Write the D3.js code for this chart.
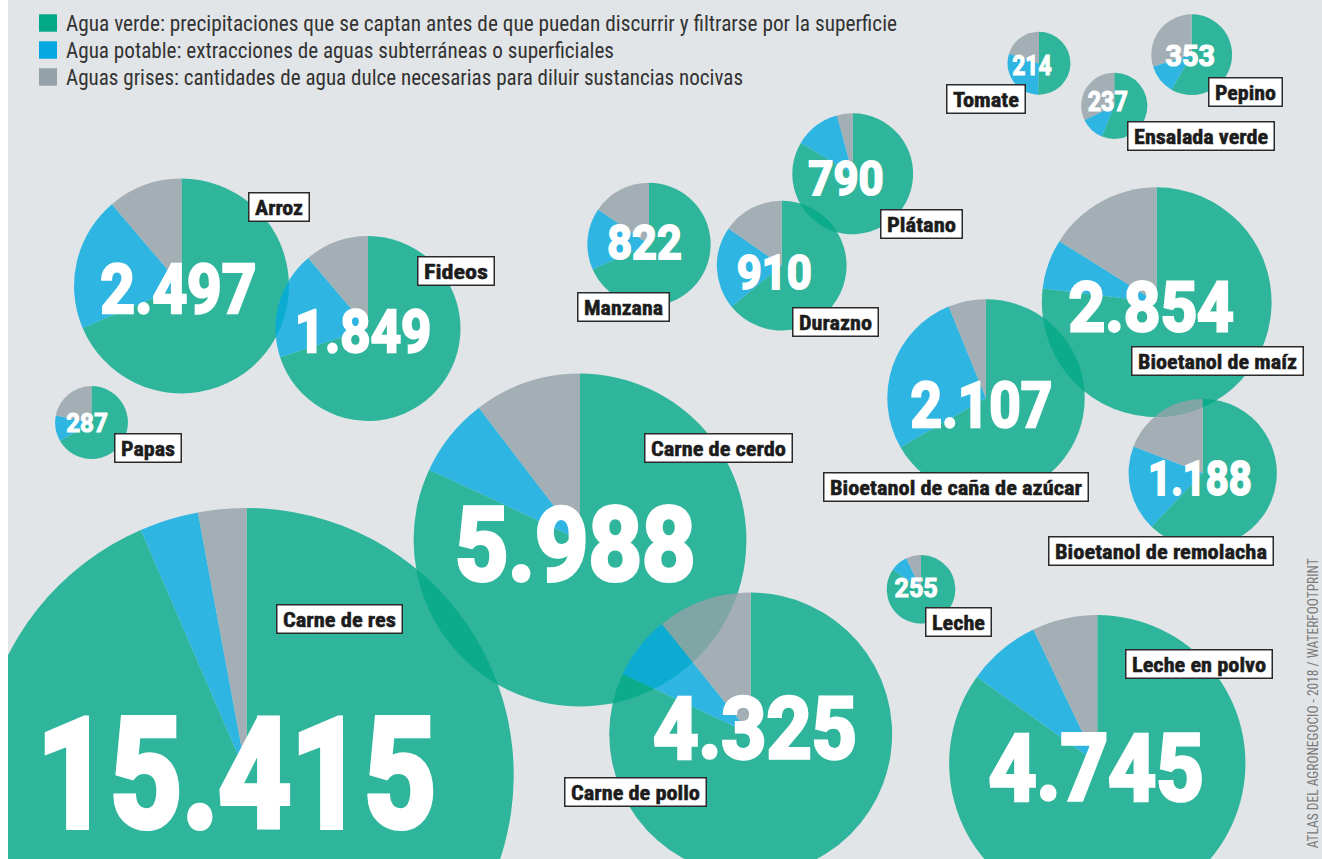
<!DOCTYPE html>
<html>
<head>
<meta charset="utf-8">
<script src="https://cdn.jsdelivr.net/npm/d3@7"></script>
<style>
  body { margin: 0; background: #fff; }
  svg { display: block; }
</style>
</head>
<body>
<div id="chart"></div>
<script>
// Water footprint per product (litres), split in green / blue / grey water
const products = ["Carne de res", "Carne de cerdo", "Carne de pollo", "Leche en polvo",
    "Bioetanol de maíz", "Bioetanol de remolacha", "Bioetanol de caña de azúcar",
    "Arroz", "Fideos", "Manzana", "Durazno", "Plátano", "Tomate", "Ensalada verde",
    "Pepino", "Papas", "Leche"];
const totals = [15415, 5988, 4325, 4745, 2854, 1188, 2107, 2497, 1849, 822, 910, 790, 214, 237, 353, 287, 255];
const greenWater = [14414, 4907, 3545, 4028, 2195, 738, 1405, 1713, 1294, 562, 583, 660, 108, 133, 206, 191, 216];
const blueWater  = [550, 459, 313, 380, 200, 222, 572, 504, 348, 133, 188, 97, 63, 28, 42, 33, 21];
const greyWater  = [451, 622, 467, 337, 459, 228, 130, 280, 207, 127, 139, 33, 43, 76, 105, 63, 18];

const legendLabels = [
    "Agua verde: precipitaciones que se captan antes de que puedan discurrir y filtrarse por la superficie",
    "Agua potable: extracciones de aguas subterráneas o superficiales",
    "Aguas grises: cantidades de agua dulce necesarias para diluir sustancias nocivas"
];
const source = "ATLAS DEL AGRONEGOCIO - 2018 / WATERFOOTPRINT";

// Layout: bubble centre, number block [x, baseline, width, cap height], name box [x, y, width]
const layout = {
    "Carne de res":               {c: [246.7, 775],   num: [40, 830, 393, 112],     box: [276, 604, 127]},
    "Carne de cerdo":             {c: [580, 540],     num: [456.7, 581.7, 236.6, 75], box: [644, 433, 149]},
    "Carne de pollo":             {c: [750.7, 734],   num: [655, 760, 200, 63.3],   box: [564, 777, 143]},
    "Leche en polvo":             {c: [1097.3, 763.2], num: [990.7, 801.7, 211, 68.4], box: [1125, 649, 148]},
    "Bioetanol de maíz":          {c: [1156.7, 302.2], num: [1070, 332.7, 162.3, 51], box: [1131, 346, 173]},
    "Bioetanol de remolacha":     {c: [1202.7, 473],  num: [1149.3, 496, 101.4, 36], box: [1048, 536, 226]},
    "Bioetanol de caña de azúcar": {c: [986, 398],    num: [911.7, 428.3, 139.3, 47.3], box: [823, 472, 266]},
    "Arroz":                      {c: [181.5, 286],   num: [101.7, 314, 153.3, 50.7], box: [248, 192, 62]},
    "Fideos":                     {c: [368, 328.5],   num: [296, 353.3, 134, 44],   box: [417, 256, 78]},
    "Manzana":                    {c: [649, 244.4],   num: [608.3, 260, 72.4, 36],  box: [577, 292, 93]},
    "Durazno":                    {c: [781.7, 265.6], num: [737.7, 290, 73, 36],    box: [792, 307, 87]},
    "Plátano":                    {c: [852.7, 173.8], num: [809.3, 196, 73.4, 35],  box: [880, 209, 83]},
    "Tomate":                     {c: [1039, 63.2],   num: [1012.7, 76, 38.3, 21],  box: [946, 84, 80]},
    "Ensalada verde":             {c: [1114.3, 105.8], num: [1088.3, 111.7, 39, 20], box: [1127, 121, 148]},
    "Pepino":                     {c: [1191.7, 54.7], num: [1166, 66.7, 48.3, 22.4], box: [1208, 77, 75]},
    "Papas":                      {c: [91.5, 422.5],  num: [66.7, 432.7, 40.6, 19.4], box: [114, 433, 68]},
    "Leche":                      {c: [921, 589.3],   num: [895, 597.3, 42.3, 19],  box: [925, 607, 67]}
};

const width = 1322, height = 859;
const font = "'Roboto Condensed', 'Liberation Sans Narrow', Roboto, sans-serif";
const numFont = "Roboto, 'Liberation Sans', sans-serif";
const colors = ["#03a987", "#03a9e0", "#93a1a8"];

const data = products.map((p, i) => ({
    name: p,
    total: totals[i],
    parts: [greenWater[i], blueWater[i], greyWater[i]]
}));

const svg = d3.select("#chart")
    .append("svg")
    .attr("width", width)
    .attr("height", height);

svg.append("defs").append("clipPath")
    .attr("id", "panel")
    .append("rect")
    .attr("x", 8).attr("y", 0)
    .attr("width", width - 8).attr("height", height);

svg.append("rect")
    .attr("x", 8).attr("y", 0)
    .attr("width", width - 8).attr("height", height)
    .attr("fill", "#e1e5e8");

const g = svg.append("g").attr("clip-path", "url(#panel)");

// bubble area proportional to the total footprint
const radius = d3.scaleSqrt()
    .domain([0, d3.max(totals)])
    .range([0, 267]);

const pie = d3.pie().sort(null).value(d => d);
const fmt = d3.formatLocale({decimal: ",", thousands: ".", grouping: [3], currency: ["", ""]}).format(",");

// pies
data.forEach(d => {
    const L = layout[d.name];
    const arc = d3.arc().innerRadius(0).outerRadius(radius(d.total));
    g.append("g")
        .attr("transform", "translate(" + L.c[0] + "," + L.c[1] + ")")
        .selectAll("path")
        .data(pie(d.parts))
        .enter().append("path")
        .attr("d", arc)
        .attr("fill", (s, i) => colors[i])
        .attr("fill-opacity", 0.8);
});

// big numbers (stroked to get the heavy display weight)
data.forEach(d => {
    const n = layout[d.name].num;
    const fs = (n[3] - n[3] * 0.04) / 0.711;
    const sw = fs * 0.04;
    g.append("text")
        .attr("x", n[0] - fs * 0.04 + sw / 2)
        .attr("y", n[1] - sw / 2)
        .attr("font-family", numFont)
        .attr("font-weight", 700)
        .attr("font-size", fs)
        .attr("fill", "#fff")
        .attr("stroke", "#fff")
        .attr("stroke-width", sw)
        .attr("stroke-linejoin", "miter")
        .attr("textLength", n[2] + fs * 0.08 - sw)
        .attr("lengthAdjust", "spacingAndGlyphs")
        .text(fmt(d.total));
});

// name boxes
data.forEach(d => {
    const b = layout[d.name].box;
    const lab = g.append("g").attr("transform", "translate(" + b[0] + "," + b[1] + ")");
    lab.append("rect")
        .attr("x", 0.75).attr("y", 0.75)
        .attr("width", b[2] - 1.5).attr("height", 28.5)
        .attr("fill", "#fff")
        .attr("stroke", "#2a2a2a")
        .attr("stroke-width", 1.5);
    lab.append("text")
        .attr("x", 7)
        .attr("y", 23)
        .attr("font-family", font)
        .attr("font-weight", 700)
        .attr("font-size", 21)
        .attr("fill", "#1c1c1c")
        .attr("stroke", "#1c1c1c")
        .attr("stroke-width", 0.5)
        .attr("textLength", b[2] - 14)
        .attr("lengthAdjust", "spacingAndGlyphs")
        .text(d.name);
});

// legend
const legendEnds = [897, 614, 743];
const legend = svg.selectAll(".legend")
    .data(legendLabels)
    .enter().append("g")
    .attr("class", "legend")
    .attr("transform", (d, i) => "translate(0," + i * 27 + ")");

legend.append("rect")
    .attr("x", 39).attr("y", 14.3)
    .attr("width", 18).attr("height", 17.4)
    .attr("fill", (d, i) => colors[i]);

legend.append("text")
    .attr("x", 66)
    .attr("y", 31)
    .attr("font-family", font)
    .attr("font-weight", 400)
    .attr("font-size", 22)
    .attr("fill", "#333")
    .attr("textLength", (d, i) => legendEnds[i] - 66)
    .attr("lengthAdjust", "spacingAndGlyphs")
    .text(d => d);

// source, vertical
svg.append("text")
    .attr("transform", "translate(1318.3,848.3) rotate(-90)")
    .attr("font-family", font)
    .attr("font-size", 14.5)
    .attr("fill", "#7a7a7a")
    .attr("textLength", 290)
    .attr("lengthAdjust", "spacingAndGlyphs")
    .text(source);
</script>
</body>
</html>
